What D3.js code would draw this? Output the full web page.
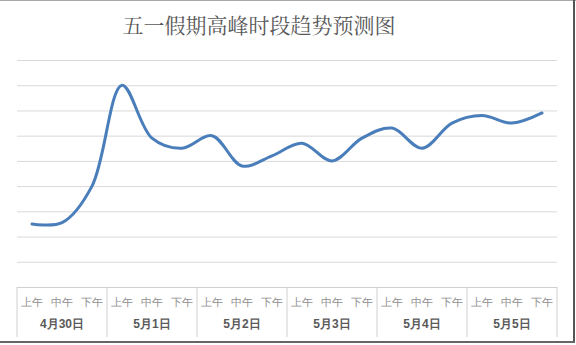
<!DOCTYPE html>
<html>
<head>
<meta charset="utf-8">
<script src="https://cdn.jsdelivr.net/npm/d3@7"></script>
<style>
  body { margin: 0; background: #fff; }
  svg { display: block; font-family: "Noto Sans CJK SC", "DejaVu Sans", sans-serif; }
</style>
</head>
<body>
<svg id="chart" width="576" height="345"></svg>
<script>
// chart data
const title = '五一假期高峰时段趋势预测图';
const days = ['4月30日', '5月1日', '5月2日', '5月3日', '5月4日', '5月5日'];
const periods = ['上午', '中午', '下午'];
const values = [25, 25.5, 40, 80, 59, 55, 60, 48, 52, 57, 50, 59, 63, 55, 65, 68, 65, 69];
const yTicks = [0, 10, 20, 30, 40, 50, 60, 70, 80, 90];

const svg = d3.select('#chart');
const W = 576, H = 345;
const margin = { top: 60, right: 19, bottom: 58, left: 17 };
const plotW = W - margin.left - margin.right;
const plotH = H - margin.top - margin.bottom;

// frame
svg.append('rect').attr('x', 0).attr('y', 0).attr('width', W).attr('height', H).attr('fill', '#fff');
svg.append('line').attr('x1', 0).attr('x2', W).attr('y1', 0.5).attr('y2', 0.5)
  .attr('stroke', '#aaa').attr('stroke-width', 1);
svg.append('line').attr('x1', 574).attr('x2', 574).attr('y1', 0).attr('y2', 343)
  .attr('stroke', '#555').attr('stroke-width', 2);
svg.append('line').attr('x1', 0).attr('x2', 575).attr('y1', 342).attr('y2', 342)
  .attr('stroke', '#666').attr('stroke-width', 2);

// title
svg.append('text')
  .attr('x', 259).attr('y', 33)
  .attr('text-anchor', 'middle')
  .attr('fill', '#595959')
  .style('font-family', '"Noto Serif CJK SC", "Noto Sans CJK SC", serif')
  .style('font-size', '21px')
  .text(title);

const g = svg.append('g').attr('transform', `translate(${margin.left},${margin.top})`);

const labels = [];
days.forEach(d => periods.forEach(p => labels.push(d + '-' + p)));

const x = d3.scaleBand().domain(labels).range([0, plotW]);
const y = d3.scaleLinear().domain([0, 90]).range([plotH, 0]);

// gridlines
g.append('g')
  .call(d3.axisLeft(y).tickValues(yTicks).tickSize(-plotW).tickFormat(''))
  .call(a => a.select('.domain').remove())
  .call(a => a.selectAll('.tick line').attr('stroke', '#d9d9d9').attr('stroke-width', 1));

// category axis (two levels)
const axis = g.append('g').attr('transform', `translate(0,${plotH})`);
axis.call(d3.axisBottom(x).tickSize(0).tickFormat(d => d.split('-')[1]))
  .call(a => a.select('.domain').attr('stroke', '#d0d0d0'))
  .call(a => a.selectAll('.tick text')
    .attr('dy', 0).attr('y', 19)
    .attr('fill', '#8f8f8f')
    .style('font-size', '10.5px'));

const groupW = plotW / days.length;
const dayScale = d3.scaleBand().domain(days).range([0, plotW]);
d3.range(days.length + 1).forEach(i => {
  axis.append('line')
    .attr('x1', i * groupW).attr('x2', i * groupW)
    .attr('y1', 0).attr('y2', 50)
    .attr('stroke', '#d0d0d0');
});
axis.selectAll('.day-label')
  .data(days)
  .enter()
  .append('text')
  .attr('class', 'day-label')
  .attr('x', d => dayScale(d) + dayScale.bandwidth() / 2)
  .attr('y', 41)
  .attr('text-anchor', 'middle')
  .attr('fill', '#595959')
  .style('font-size', '12px')
  .style('font-weight', 600)
  .text(d => d);

// the line
const line = d3.line()
  .x((d, i) => x(labels[i]) + x.bandwidth() / 2)
  .y(d => y(d))
  .curve(d3.curveCatmullRom.alpha(0.5));

g.append('path')
  .datum(values)
  .attr('d', line)
  .attr('fill', 'none')
  .attr('stroke', '#4a7ebb')
  .attr('stroke-width', 3)
  .attr('stroke-linecap', 'round');
</script>
</body>
</html>
